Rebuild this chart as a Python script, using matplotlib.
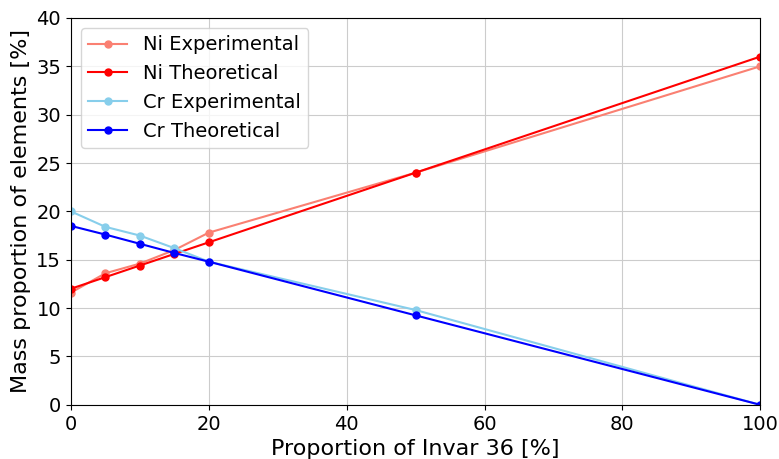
import numpy as np
import matplotlib
matplotlib.use("Agg")
import matplotlib.pyplot as plt

# data
invar = [0, 5, 10, 15, 20, 50, 100]
ni_exp = [11.6, 13.6, 14.6, 16.0, 17.8, 24.0, 35.0]
ni_theo = [12.0, 13.2, 14.4, 15.6, 16.8, 24.0, 36.0]
cr_exp = [20.0, 18.4, 17.5, 16.2, 14.8, 9.8, 0.0]
cr_theo = [18.5, 17.6, 16.65, 15.7, 14.8, 9.25, 0.0]

fig = plt.figure(figsize=(7.79, 4.59), dpi=100)
ax = fig.add_axes([0.091, 0.118, 0.885, 0.843])

ax.plot(invar, ni_exp, marker='o', markersize=5, color='salmon', label='Ni Experimental')
ax.plot(invar, ni_theo, marker='o', markersize=5, color='red', label='Ni Theoretical')
ax.plot(invar, cr_exp, marker='o', markersize=5, color='skyblue', label='Cr Experimental')
ax.plot(invar, cr_theo, marker='o', markersize=5, color='blue', label='Cr Theoretical')

ax.set_xlim(0, 100)
ax.set_ylim(0, 40)
ax.grid(True, color='#cccccc')
ax.tick_params(labelsize=14)
ax.set_xlabel('Proportion of Invar 36 [%]', fontsize=16)
ax.set_ylabel('Mass proportion of elements [%]', fontsize=16)
ax.legend(loc='upper left', fontsize=14)

fig.savefig('out.png', dpi=100)
